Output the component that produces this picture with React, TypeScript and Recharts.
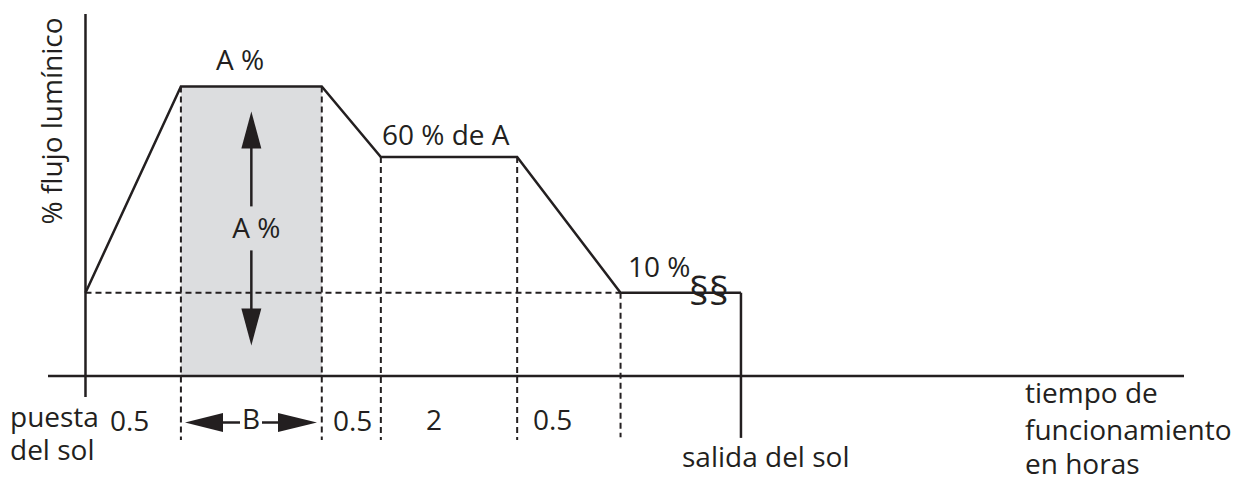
import React from "react"
import {
    ComposedChart,
    Line,
    XAxis,
    YAxis,
    ReferenceLine,
    ReferenceArea,
    Customized,
} from "recharts"

// schematic time axis (not to scale in the original drawing)
const hours = [3.3, 11.7, 24.1, 29.3, 41.3, 50.4, 61.0]
// schematic luminous flux level at each breakpoint
const flux = [23, 80, 80, 60.5, 60.5, 23, 23]

const sunset = 3.3
const sunrise = 61.0
const belowAxis = -17.7
const yAxisBottom = -5.8

const segmentLabels = ["0.5", "B", "0.5", "2", "0.5"]

const profile = hours.map((t, i) => ({ t, flux: flux[i] }))

const INK = "#231f20"
const FONT = "'Open Sans', sans-serif"
const FS = 28

// double arrow + "A %" drawn inside the shaded zone
function ZoneArrow(props: any) {
    const vb = props.viewBox || { x: 0, y: 0, width: 0, height: 0 }
    const cx = vb.x + vb.width / 2
    const top = vb.y
    return (
        <g fill={INK}>
            <line x1={cx} y1={top + 58} x2={cx} y2={top + 120} stroke={INK} strokeWidth={2.5} />
            <polygon points={`${cx},${top + 25} ${cx - 10},${top + 62} ${cx + 10},${top + 62}`} />
            <text x={cx + 5} y={top + 152} textAnchor="middle" fontFamily={FONT} fontSize={FS}>
                A %
            </text>
            <line x1={cx} y1={top + 164} x2={cx} y2={top + 226} stroke={INK} strokeWidth={2.5} />
            <polygon points={`${cx},${top + 259} ${cx - 10},${top + 222} ${cx + 10},${top + 222}`} />
        </g>
    )
}

function Annotations() {
    return (
        <g fontFamily={FONT} fontSize={FS} fill={INK}>
            <text
                transform="translate(62,121) rotate(-90)"
                textAnchor="middle"
            >
                % flujo lumínico
            </text>
            <text x={240} y={70} textAnchor="middle">A %</text>
            <text x={382} y={145}>60 % de A</text>
            <text x={628} y={277}>10 %</text>
            <text x={689} y={305} fontSize={39}>§§</text>

            {/* bottom labels */}
            <text x={10} y={427}>puesta</text>
            <text x={10} y={460}>del sol</text>
            <text x={110} y={431}>{segmentLabels[0]}</text>
            <text x={251} y={429} textAnchor="middle">{segmentLabels[1]}</text>
            <text x={333} y={431}>{segmentLabels[2]}</text>
            <text x={426} y={430}>{segmentLabels[3]}</text>
            <text x={533} y={430}>{segmentLabels[4]}</text>

            <line x1={220} y1={422.5} x2={240} y2={422.5} stroke={INK} strokeWidth={2.5} />
            <polygon points="185,422.5 223,413 223,432" />
            <line x1={262} y1={422.5} x2={281} y2={422.5} stroke={INK} strokeWidth={2.5} />
            <polygon points="317,422.5 278,413 278,432" />

            <text x={682} y={467}>salida del sol</text>
            <text x={1025} y={403}>tiempo de</text>
            <text x={1025} y={440}>funcionamiento</text>
            <text x={1025} y={474}>en horas</text>
        </g>
    )
}

export default function App() {
    const dashed = { stroke: INK, strokeWidth: 2, strokeDasharray: "6 4" }
    return (
        <div style={{ position: "absolute", left: 0, top: 0, width: 1248, height: 481, background: "#fff" }}>
            <ComposedChart
                width={1248}
                height={481}
                data={profile}
                margin={{ top: 14, right: 64, bottom: 105, left: 48 }}
            >
                <XAxis type="number" dataKey="t" domain={[0, 100]} hide />
                <YAxis type="number" domain={[0, 100]} hide />

                <ReferenceArea
                    x1={hours[1]}
                    x2={hours[2]}
                    y1={0}
                    y2={flux[1]}
                    fill="#dcdddf"
                    fillOpacity={1}
                    stroke="none"
                    ifOverflow="visible"
                    label={<ZoneArrow />}
                />

                <ReferenceLine
                    segment={[{ x: sunset, y: flux[0] }, { x: hours[5], y: flux[5] }]}
                    {...dashed}
                    ifOverflow="visible"
                />
                {[1, 2, 3, 4, 5].map((i) => (
                    <ReferenceLine
                        key={i}
                        segment={[{ x: hours[i], y: flux[i] }, { x: hours[i], y: i === 5 ? -16.9 : belowAxis }]}
                        {...dashed}
                        ifOverflow="visible"
                    />
                ))}

                {/* axes */}
                <ReferenceLine y={0} stroke={INK} strokeWidth={2.5} ifOverflow="visible" />
                <ReferenceLine
                    segment={[{ x: sunset, y: 100 }, { x: sunset, y: yAxisBottom }]}
                    stroke={INK}
                    strokeWidth={2.5}
                    ifOverflow="visible"
                />
                <ReferenceLine
                    segment={[{ x: sunrise, y: flux[6] }, { x: sunrise, y: -17.1 }]}
                    stroke={INK}
                    strokeWidth={2.5}
                    ifOverflow="visible"
                />

                <Line
                    dataKey="flux"
                    type="linear"
                    stroke={INK}
                    strokeWidth={2.5}
                    dot={false}
                    activeDot={false}
                    isAnimationActive={false}
                />

                <Customized component={<Annotations />} />
            </ComposedChart>
        </div>
    )
}
